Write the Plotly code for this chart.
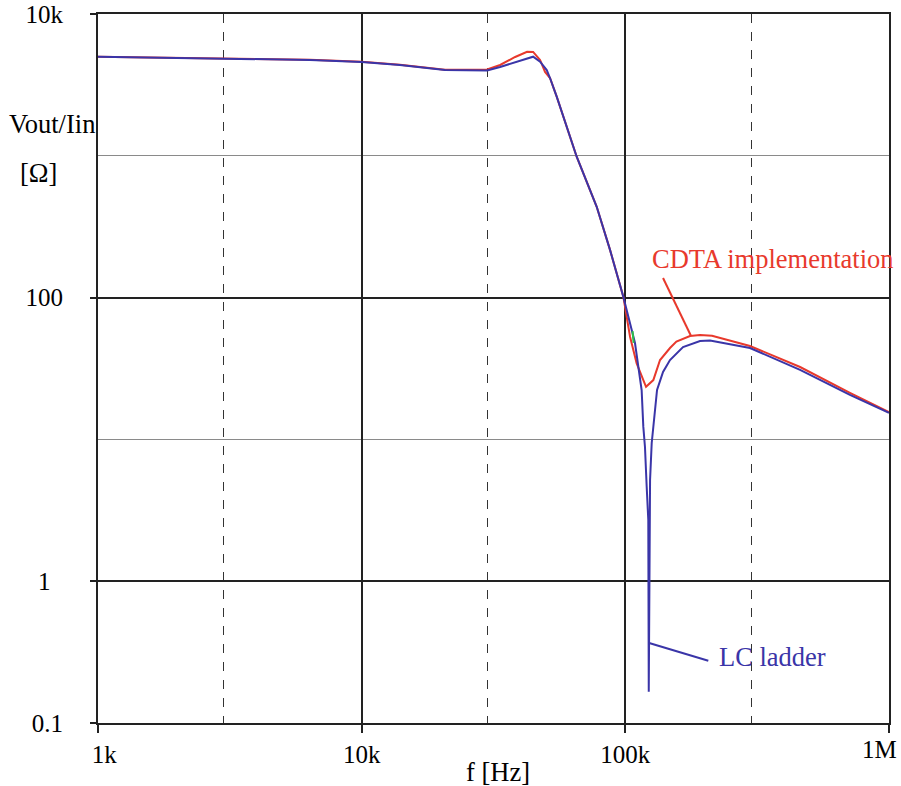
import plotly.graph_objects as go

# ---- data ----
f_lc = [1000, 3000, 6370, 10000, 13970, 20700, 29900, 33500, 38200, 44700, 47500, 50340, 51800,
        54920, 65390, 77880, 87490, 98260, 108800, 113700, 115300, 117000, 118700, 120500, 122200,
        122700, 124100, 125900, 127700, 131900, 139000, 147700, 165500, 192000, 209500, 297000,
        460000, 711000, 1000000]
v_lc = [5000, 4840, 4740, 4590, 4370, 4030, 3990, 4230, 4590, 5000, 4610, 4027, 3537,
        2611, 985, 437, 217, 101.5, 47.8, 27.7, 22.3, 12.3, 8.88, 4.64, 2.70,
        0.166, 5.17, 9.43, 12.3, 22.3, 29.9, 36.3, 44.8, 49.4, 49.8, 44.1,
        30.9, 20.6, 15.4]

f_cdta = [1000, 3000, 6370, 10000, 13970, 20700, 29900, 33500, 38200, 42400, 44700, 47500, 49600,
          51800, 54920, 65390, 77880, 87490, 98260, 104200, 110400, 119800, 127700, 135400, 147700,
          156200, 175900, 192000, 213200, 297000, 460000, 711000, 1000000]
v_cdta = [5000, 4870, 4760, 4600, 4380, 4040, 4060, 4370, 4975, 5420, 5400, 4740, 3900,
          3537, 2611, 985, 437, 217, 101.5, 53, 34.4, 23.5, 26.2, 36.3, 44.1,
          48.9, 53.6, 54.5, 53.8, 45.6, 32.4, 21.3, 15.6]

f_green = [106500, 107500]
v_green = [58, 48]

# leader lines of the labels
f_cdta_leader = [139000, 177500]
v_cdta_leader = [137.4, 53.6]
f_lc_leader = [122200, 206400]
v_lc_leader = [0.368, 0.275]

x_major = [1000, 10000, 100000, 1000000]
x_major_text = ["\u00a0\u00a01k", "10k", "100k", ""]
x_last_label = "1M"
x_minor = [3000, 30000, 300000]
y_major = [0.1, 1, 100, 10000]
y_major_text = ["0.1", "1\u00a0\u00a0", "100", "10k"]
y_minor = [10, 1000]

RED = "#E8392C"
BLUE = "#3A35A8"
FONT = "Liberation Serif"
ANN = 26.5

fig = go.Figure()
fig.add_trace(go.Scatter(x=f_cdta, y=v_cdta, mode="lines", line=dict(color=RED, width=2)))
fig.add_trace(go.Scatter(x=f_lc, y=v_lc, mode="lines", line=dict(color=BLUE, width=2)))
fig.add_trace(go.Scatter(x=f_green, y=v_green, mode="lines", line=dict(color="#2DBE4A", width=2)))
fig.add_trace(go.Scatter(x=f_cdta_leader, y=v_cdta_leader, mode="lines", line=dict(color=RED, width=2)))
fig.add_trace(go.Scatter(x=f_lc_leader, y=v_lc_leader, mode="lines", line=dict(color=BLUE, width=2)))

fig.update_layout(
    width=901, height=786,
    margin=dict(l=98, r=12, t=14, b=63),
    paper_bgcolor="white", plot_bgcolor="white",
    showlegend=False,
    font=dict(family=FONT, size=25),
    xaxis=dict(
        type="log", range=[3, 6], automargin=False,
        tickmode="array", tickvals=x_major, ticktext=x_major_text,
        ticks="outside", ticklen=8, tickwidth=1.5, tickcolor="#222",
        showgrid=True, gridcolor="#222", gridwidth=1.5,
        showline=True, linecolor="#222", linewidth=2, mirror=True,
        zeroline=False,
        minor=dict(tickmode="array", tickvals=x_minor, showgrid=True,
                   gridcolor="#333", gridwidth=1, griddash="dash", ticks=""),
        tickfont=dict(family=FONT, size=25, color="black"),
    ),
    yaxis=dict(
        type="log", range=[-1, 4], automargin=False,
        tickmode="array", tickvals=y_major, ticktext=y_major_text,
        ticks="outside", ticklen=6, tickwidth=1.5, tickcolor="#222",
        ticklabeloverflow="allow",
        showgrid=True, gridcolor="#222", gridwidth=1.5,
        showline=True, linecolor="#222", linewidth=2, mirror=True,
        zeroline=False,
        ticklabelstandoff=22,
        minor=dict(tickmode="array", tickvals=y_minor, showgrid=True,
                   gridcolor="#8a8a8a", gridwidth=1.2, ticks=""),
        tickfont=dict(family=FONT, size=25, color="black"),
    ),
    annotations=[
        dict(text=x_last_label, xref="paper", yref="paper", x=0.9886, y=-0.038,
             xanchor="center", yanchor="middle", showarrow=False,
             font=dict(family=FONT, size=25, color="black")),
        dict(text="Vout/Iin", xref="paper", yref="paper", x=-0.0582, y=0.8445,
             xanchor="center", yanchor="middle", showarrow=False,
             font=dict(family=FONT, size=ANN, color="black")),
        dict(text="[Ω]", xref="paper", yref="paper", x=-0.0752, y=0.7757,
             xanchor="center", yanchor="middle", showarrow=False,
             font=dict(family=FONT, size=ANN, color="black")),
        dict(text="f [Hz]", xref="paper", yref="paper", x=0.5057, y=-0.069,
             xanchor="center", yanchor="middle", showarrow=False,
             font=dict(family=FONT, size=ANN, color="black")),
        dict(text="CDTA implementation", xref="paper", yref="paper", x=0.698, y=0.654,
             xanchor="left", yanchor="middle", showarrow=False,
             font=dict(family=FONT, size=ANN, color=RED)),
        dict(text="LC ladder", xref="paper", yref="paper", x=0.7826, y=0.0924,
             xanchor="left", yanchor="middle", showarrow=False,
             font=dict(family=FONT, size=ANN, color=BLUE)),
    ],
)

fig.write_html("out.html")
